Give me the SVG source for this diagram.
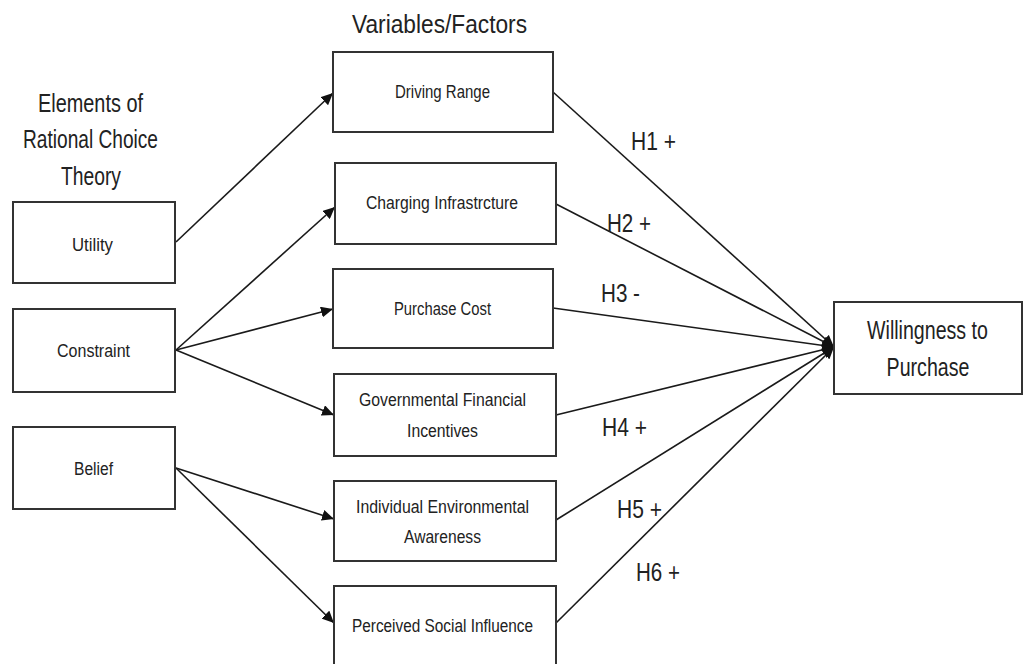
<svg xmlns="http://www.w3.org/2000/svg" width="1025" height="664" viewBox="0 0 1025 664">
  <style>
    .box { fill: #ffffff; stroke: #333333; stroke-width: 2; }
    .t { font-family: "Liberation Sans", Arial, sans-serif; fill: #222222; }
    .lbl { font-size: 17.5px; }
    .hd { font-size: 26px; }
    .hy { font-size: 25px; }
    .tall { font-size: 19.6px; text-anchor: middle; }
    .edge { stroke: #1a1a1a; stroke-width: 1.6; fill: none; marker-end: url(#arrow); }
  </style>
  <defs>
    <marker id="arrow" markerWidth="13" markerHeight="11" refX="12" refY="5.5" orient="auto" markerUnits="userSpaceOnUse">
      <path d="M0,0 L12,5.5 L0,11 Z" fill="#111111"/>
    </marker>
  </defs>
  <rect width="1025" height="664" fill="#ffffff"/>

  <!-- column headings -->
  <g id="heading-elements">
    <text class="t hd" x="38" y="112" textLength="105" lengthAdjust="spacingAndGlyphs">Elements of</text>
    <text class="t hd" x="23" y="148" textLength="135" lengthAdjust="spacingAndGlyphs">Rational Choice</text>
    <text class="t hd" x="61" y="185" textLength="60" lengthAdjust="spacingAndGlyphs">Theory</text>
  </g>
  <g id="heading-variables">
    <text class="t hd" x="352" y="33" textLength="175" lengthAdjust="spacingAndGlyphs">Variables/Factors</text>
  </g>

  <!-- connectors -->
  <g id="connectors">
    <line class="edge" x1="176" y1="242" x2="333" y2="93"/>
    <line class="edge" x1="176" y1="350" x2="335" y2="207"/>
    <line class="edge" x1="176" y1="350" x2="333" y2="309"/>
    <line class="edge" x1="176" y1="350" x2="334" y2="415"/>
    <line class="edge" x1="176" y1="468" x2="334" y2="519"/>
    <line class="edge" x1="176" y1="468" x2="334" y2="623"/>
    <line class="edge" x1="553" y1="92" x2="834" y2="347"/>
    <line class="edge" x1="556" y1="204" x2="834" y2="347"/>
    <line class="edge" x1="553" y1="308" x2="834" y2="347"/>
    <line class="edge" x1="556" y1="415" x2="834" y2="347"/>
    <line class="edge" x1="556" y1="520" x2="834" y2="347"/>
    <line class="edge" x1="556" y1="623" x2="834" y2="347"/>
  </g>

  <!-- hypothesis labels -->
  <g id="hypotheses">
    <text class="t hy" x="631" y="150" textLength="45" lengthAdjust="spacingAndGlyphs">H1 +</text>
    <text class="t hy" x="607" y="232" textLength="44" lengthAdjust="spacingAndGlyphs">H2 +</text>
    <text class="t hy" x="601" y="302" textLength="39" lengthAdjust="spacingAndGlyphs">H3 -</text>
    <text class="t hy" x="602" y="436" textLength="45" lengthAdjust="spacingAndGlyphs">H4 +</text>
    <text class="t hy" x="617" y="518" textLength="45" lengthAdjust="spacingAndGlyphs">H5 +</text>
    <text class="t hy" x="636" y="581" textLength="44" lengthAdjust="spacingAndGlyphs">H6 +</text>
  </g>

  <!-- rational choice elements -->
  <g id="utility">
    <rect class="box" x="13" y="202" width="162" height="81"/>
    <text class="t lbl" x="72" y="251" textLength="41" lengthAdjust="spacingAndGlyphs">Utility</text>
  </g>
  <g id="constraint">
    <rect class="box" x="13" y="309" width="162" height="83"/>
    <text class="t lbl" x="57" y="357" textLength="73" lengthAdjust="spacingAndGlyphs">Constraint</text>
  </g>
  <g id="belief">
    <rect class="box" x="13" y="427" width="162" height="82"/>
    <text class="t lbl" x="74" y="475" textLength="39" lengthAdjust="spacingAndGlyphs">Belief</text>
  </g>

  <!-- variables / factors -->
  <g id="driving-range">
    <rect class="box" x="333" y="52" width="220" height="80"/>
    <text class="t lbl" x="395" y="98" textLength="95" lengthAdjust="spacingAndGlyphs">Driving Range</text>
  </g>
  <g id="charging-infrastructure">
    <rect class="box" x="335" y="163" width="221" height="81"/>
    <text class="t lbl" x="366" y="209" textLength="152" lengthAdjust="spacingAndGlyphs">Charging Infrastrcture</text>
  </g>
  <g id="purchase-cost">
    <rect class="box" x="333" y="269" width="220" height="79"/>
    <text class="t lbl" x="394" y="315" textLength="97" lengthAdjust="spacingAndGlyphs">Purchase Cost</text>
  </g>
  <g id="financial-incentives">
    <rect class="box" x="334" y="374" width="222" height="82"/>
    <text class="t lbl" x="359" y="406" textLength="167" lengthAdjust="spacingAndGlyphs">Governmental Financial</text>
    <text class="t lbl" x="407" y="437" textLength="71" lengthAdjust="spacingAndGlyphs">Incentives</text>
  </g>
  <g id="environmental-awareness">
    <rect class="box" x="334" y="481" width="222" height="80"/>
    <text class="t lbl" x="356" y="513" textLength="173" lengthAdjust="spacingAndGlyphs">Individual Environmental</text>
    <text class="t lbl" x="404" y="543" textLength="77" lengthAdjust="spacingAndGlyphs">Awareness</text>
  </g>
  <g id="social-influence">
    <rect class="box" x="334" y="586" width="222" height="84"/>
    <text class="t lbl" x="352" y="632" textLength="181" lengthAdjust="spacingAndGlyphs">Perceived Social Influence</text>
  </g>

  <!-- outcome: labels stretched vertically to the tall face used elsewhere -->
  <g id="willingness">
    <rect class="box" x="834" y="302" width="188" height="92"/>
    <text class="t tall" transform="translate(927.5,339) scale(1,1.33)">Willingness to</text>
    <text class="t tall" transform="translate(928,376) scale(1,1.33)">Purchase</text>
  </g>
</svg>
